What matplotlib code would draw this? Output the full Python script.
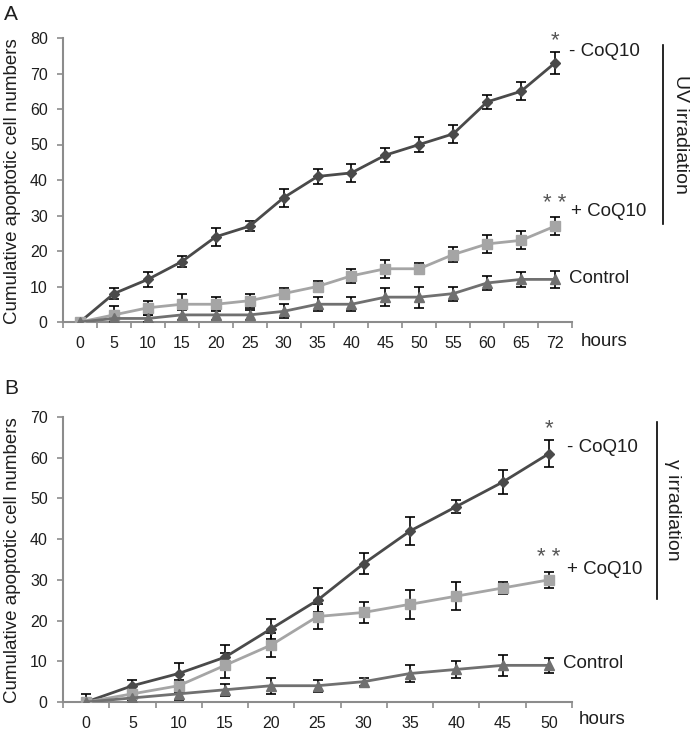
import matplotlib
matplotlib.use("Agg")
import matplotlib.pyplot as plt
import numpy as np

plt.rcParams["font.family"] = ["Liberation Sans", "DejaVu Sans"]

# ---------------------------------------------------------------------------
# DATA
# ---------------------------------------------------------------------------
hours_a = ["0", "5", "10", "15", "20", "25", "30", "35", "40", "45", "50", "55", "60", "65", "72"]
uv_minus = [0, 8, 12, 17, 24, 27, 35, 41, 42, 47, 50, 53, 62, 65, 73]
uv_minus_err = [0.5, 1.5, 2, 1.5, 2.5, 1.5, 2.5, 2, 2.5, 2, 2, 2.5, 2, 2.5, 3]
uv_plus = [0, 2, 4, 5, 5, 6, 8, 10, 13, 15, 15, 19, 22, 23, 27]
uv_plus_err = [0.5, 2.5, 2, 3, 2, 2, 1.5, 1.5, 2, 2.5, 1.5, 2, 2.5, 2.5, 2.5]
uv_ctrl = [0, 1, 1, 2, 2, 2, 3, 5, 5, 7, 7, 8, 11, 12, 12]
uv_ctrl_err = [0.5, 1, 1, 1.5, 1.5, 1.5, 2, 2, 2, 2.5, 3, 2, 2, 2, 2.5]

hours_b = ["0", "5", "10", "15", "20", "25", "30", "35", "40", "45", "50"]
g_minus = [0, 4, 7, 11, 18, 25, 34, 42, 48, 54, 61]
g_minus_err = [2, 1.5, 2.5, 3, 2.5, 3, 2.5, 3.5, 1.5, 3, 3.3]
g_plus = [0, 2, 4, 9, 14, 21, 22, 24, 26, 28, 30]
g_plus_err = [0.3, 1, 1.5, 3, 3, 3, 2.5, 3.5, 3.5, 1.5, 2]
g_ctrl = [0, 1, 2, 3, 4, 4, 5, 7, 8, 9, 9]
g_ctrl_err = [0.3, 0.5, 1.5, 1.5, 2, 1.5, 1, 2, 2, 2.5, 1.8]

C_MINUS = "#4a4a4a"
C_PLUS = "#a5a5a5"
C_CTRL = "#707070"
AXIS_C = "#8c8c8c"
TXT = "#1e1e1e"

W, H = 692, 731
fig = plt.figure(figsize=(W / 100, H / 100), dpi=100)


def px_axes(left, right, top, bottom):
    # pixel box -> figure fraction
    return fig.add_axes([left / W, 1 - bottom / H, (right - left) / W, (bottom - top) / H])


def fig_text(x, y, s, **kw):
    # text placed in pixels from the top-left corner
    kw.setdefault("fontsize", 13.5)
    kw.setdefault("color", TXT)
    return fig.text(x / W, 1 - y / H, s, **kw)


def draw_panel(ax, cats, series, ymax, ystep):
    x = np.arange(len(cats))
    for vals, errs, color, marker, ms in series:
        ax.errorbar(x, vals, yerr=errs, color=color, marker=marker, ms=ms, lw=2,
                    ecolor="black", elinewidth=1.2, capsize=3.5, capthick=1.2, zorder=3)
    ax.set_xlim(-0.5, len(cats) - 0.5)
    ax.set_ylim(0, ymax)
    ax.set_yticks(np.arange(0, ymax + 1, ystep))
    ax.set_xticks(x)
    ax.set_xticklabels(cats)
    ax.set_xticks(np.arange(-0.5, len(cats), 1), minor=True)
    ax.tick_params(axis="x", which="major", length=0, labelsize=11.5, pad=10, colors=TXT)
    ax.tick_params(axis="x", which="minor", length=4, direction="out", color=AXIS_C, width=1.2)
    ax.tick_params(axis="y", length=4, direction="out", color=AXIS_C, width=1.2,
                   labelsize=11.5, labelcolor=TXT, pad=7)
    for s in ["top", "right"]:
        ax.spines[s].set_visible(False)
    for s in ["left", "bottom"]:
        ax.spines[s].set_color(AXIS_C)
        ax.spines[s].set_linewidth(1.5)
    ax.patch.set_visible(False)


def label_at(ax, xi, yv, s, dx, dy, **kw):
    kw.setdefault("fontsize", 13.5)
    kw.setdefault("color", TXT)
    kw.setdefault("va", "center")
    ax.annotate(s, (xi, yv), xytext=(dx, dy), textcoords="offset pixels", **kw)


# ---------------------------------------------------------------------------
# PANEL A - UV irradiation
# ---------------------------------------------------------------------------
ax_a = px_axes(63, 572, 38, 322)
draw_panel(ax_a, hours_a, [
    (uv_minus, uv_minus_err, C_MINUS, "D", 5),
    (uv_plus, uv_plus_err, C_PLUS, "s", 7),
    (uv_ctrl, uv_ctrl_err, C_CTRL, "^", 7),
], 80, 10)
last = len(hours_a) - 1
label_at(ax_a, last, uv_minus[-1], "- CoQ10", 14, 11)
label_at(ax_a, last, uv_plus[-1], "+ CoQ10", 16, 15)
label_at(ax_a, last, uv_ctrl[-1], "Control", 14, 1)
label_at(ax_a, last, uv_minus[-1] + uv_minus_err[-1], "*", 0, 12, ha="center",
         fontsize=16, color="#555555")
label_at(ax_a, last, uv_plus[-1] + uv_plus_err[-1], "* *", 0, 14, ha="center",
         fontsize=16, color="#555555")
fig_text(13, 181, "Cumulative apoptotic cell numbers", rotation=90, ha="center", va="center")
fig_text(581, 342, "hours", va="center")
fig.add_artist(plt.Line2D([663 / W, 663 / W], [1 - 45 / H, 1 - 224 / H], color="black", lw=1.2))
fig_text(680, 134, "UV irradiation", fontsize=14, rotation=-90, ha="center", va="center")
fig_text(11, 14, "A", fontsize=15, ha="center", va="center")

# ---------------------------------------------------------------------------
# PANEL B - gamma irradiation
# ---------------------------------------------------------------------------
ax_b = px_axes(63, 572, 417, 702)
draw_panel(ax_b, hours_b, [
    (g_minus, g_minus_err, C_MINUS, "D", 5),
    (g_plus, g_plus_err, C_PLUS, "s", 7),
    (g_ctrl, g_ctrl_err, C_CTRL, "^", 7),
], 70, 10)
last = len(hours_b) - 1
label_at(ax_b, last, g_minus[-1], "- CoQ10", 18, 6)
label_at(ax_b, last, g_plus[-1], "+ CoQ10", 18, 10)
label_at(ax_b, last, g_ctrl[-1], "Control", 14, 2)
label_at(ax_b, last, g_minus[-1] + g_minus_err[-1], "*", 0, 12, ha="center",
         fontsize=16, color="#555555")
label_at(ax_b, last, g_plus[-1] + g_plus_err[-1], "* *", 0, 14, ha="center",
         fontsize=16, color="#555555")
fig_text(13, 560, "Cumulative apoptotic cell numbers", rotation=90, ha="center", va="center")
fig_text(579, 720, "hours", va="center")
fig.add_artist(plt.Line2D([657 / W, 657 / W], [1 - 422 / H, 1 - 599 / H], color="black", lw=1.2))
fig_text(673, 510, "\u03b3 irradiation", fontsize=14, rotation=-90, ha="center", va="center")
fig_text(11, 388, "B", fontsize=15, ha="center", va="center")

fig.savefig("out.png", dpi=100)
